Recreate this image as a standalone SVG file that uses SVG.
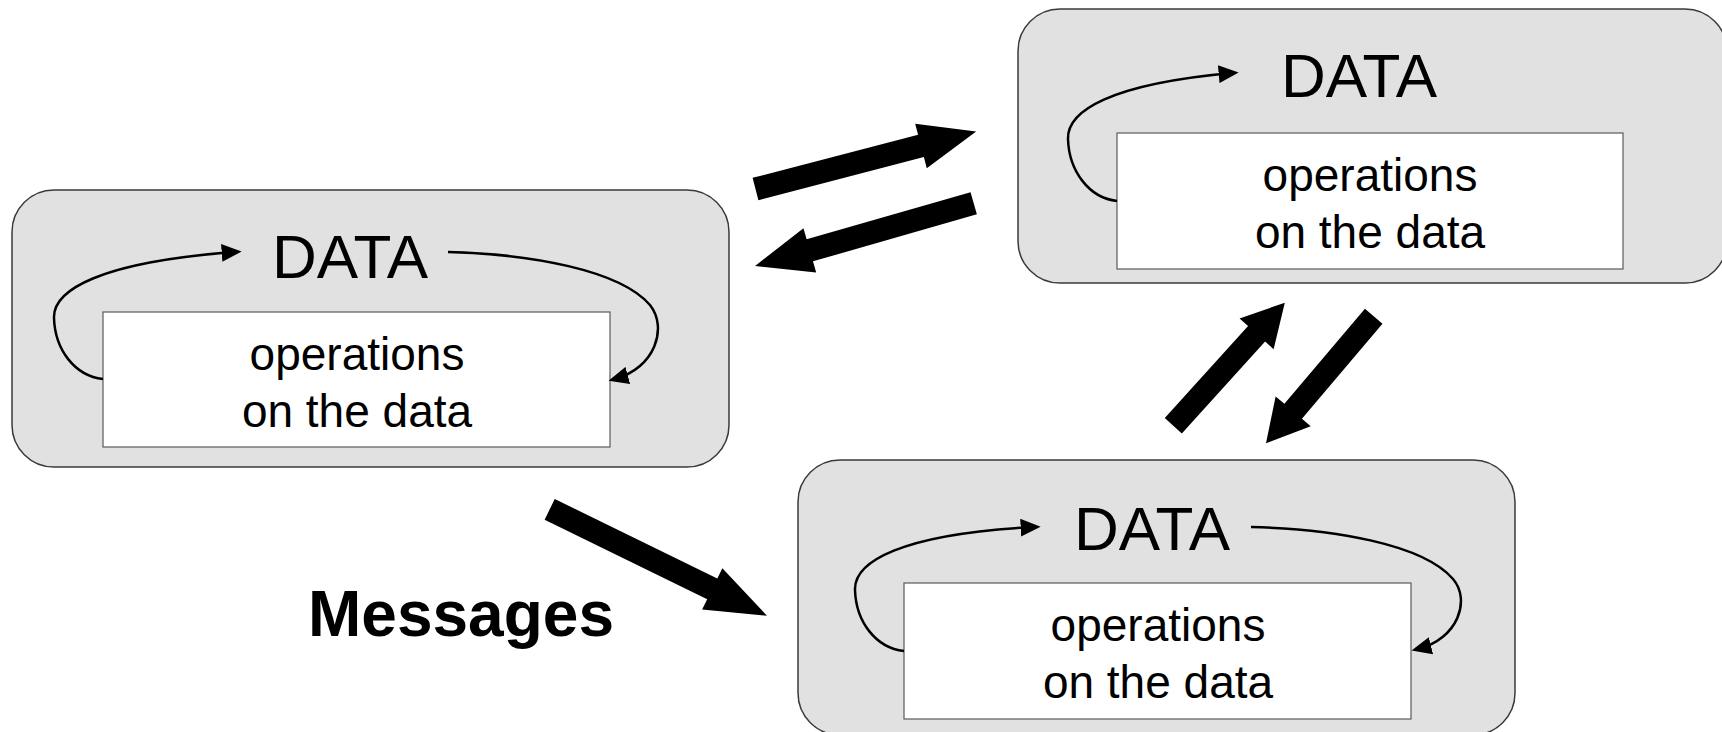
<svg xmlns="http://www.w3.org/2000/svg" width="1722" height="732" viewBox="0 0 1722 732">
  <style>
    .box { fill: #e1e1e1; stroke: #3a3a3a; stroke-width: 1.5; }
    .ops { fill: #ffffff; stroke: #5a5a5a; stroke-width: 1.2; }
    .data { font-family: "Liberation Sans", Arial, sans-serif; font-size: 62px; fill: #000; text-anchor: middle; }
    .op { font-family: "Liberation Sans", Arial, sans-serif; font-size: 46px; fill: #000; text-anchor: middle; }
    .loop { fill: none; stroke: #000; stroke-width: 2.5; marker-end: url(#tip); }
    .msg { fill: #000; }
    .label { font-family: "Liberation Sans", Arial, sans-serif; font-size: 64px; font-weight: bold; fill: #000; }
  </style>
  <defs>
    <marker id="tip" markerUnits="userSpaceOnUse" markerWidth="20" markerHeight="18" viewBox="0 0 18 16" refX="12" refY="8" orient="auto">
      <path d="M0,0 L18,8 L0,16 z" fill="#000"/>
    </marker>
  </defs>

  <!-- left object -->
  <g id="node-left">
    <rect class="box" x="12" y="190" width="717" height="277" rx="42" ry="42"/>
    <rect class="ops" x="103" y="312" width="507" height="135"/>
    <text class="data" x="350" y="278">DATA</text>
    <text class="op" x="357" y="370">operations</text>
    <text class="op" x="357" y="427">on the data</text>
  </g>

  <!-- upper right object -->
  <g id="node-top-right">
    <rect class="box" x="1018" y="9" width="709" height="274" rx="42" ry="42"/>
    <rect class="ops" x="1117" y="133" width="506" height="136"/>
    <text class="data" x="1359" y="97">DATA</text>
    <text class="op" x="1370" y="191">operations</text>
    <text class="op" x="1370" y="248">on the data</text>
  </g>

  <!-- lower object -->
  <g id="node-bottom">
    <rect class="box" x="798" y="460" width="717" height="275" rx="42" ry="42"/>
    <rect class="ops" x="904" y="583" width="507" height="136"/>
    <text class="data" x="1152" y="550">DATA</text>
    <text class="op" x="1158" y="641">operations</text>
    <text class="op" x="1158" y="698">on the data</text>
  </g>

  <!-- internal data/operation loops -->
  <g id="loops">
    <path class="loop" d="M103,379 C75,376 55,350 54,318 C53,290 100,262 235,252"/>
    <path class="loop" d="M448,252 C530,254 620,270 650,305 C668,328 655,368 615,379"/>
    <path class="loop" d="M1117,201 C1089,198 1069,171 1068,139 C1067,111 1110,84 1232,73"/>
    <path class="loop" d="M904,651 C876,648 856,622 855,590 C854,562 900,534 1034,527"/>
    <path class="loop" d="M1251,527 C1333,529 1423,544 1453,579 C1471,600 1458,639 1418,649"/>
  </g>

  <!-- message arrows between objects -->
  <g id="connectors">
    <polygon class="msg" transform="translate(755.5,189) rotate(-14.6)" points="0,-11.5 171,-11.5 171,-23 228,0 171,23 171,11.5 0,11.5"/>
    <polygon class="msg" transform="translate(973.7,203.3) rotate(164)" points="0,-11.5 170.5,-11.5 170.5,-23 227.5,0 170.5,23 170.5,11.5 0,11.5"/>
    <polygon class="msg" transform="translate(1173.3,425.7) rotate(-47.8)" points="0,-11.5 124,-11.5 124,-23 166,0 124,23 124,11.5 0,11.5"/>
    <polygon class="msg" transform="translate(1373.7,316.3) rotate(130.3)" points="0,-11.5 124.5,-11.5 124.5,-23 166.5,0 124.5,23 124.5,11.5 0,11.5"/>
    <polygon class="msg" transform="translate(549.7,509.3) rotate(26.1)" points="0,-11.5 181,-11.5 181,-23 242,0 181,23 181,11.5 0,11.5"/>
  </g>

  <text class="label" x="308" y="636">Messages</text>
</svg>
